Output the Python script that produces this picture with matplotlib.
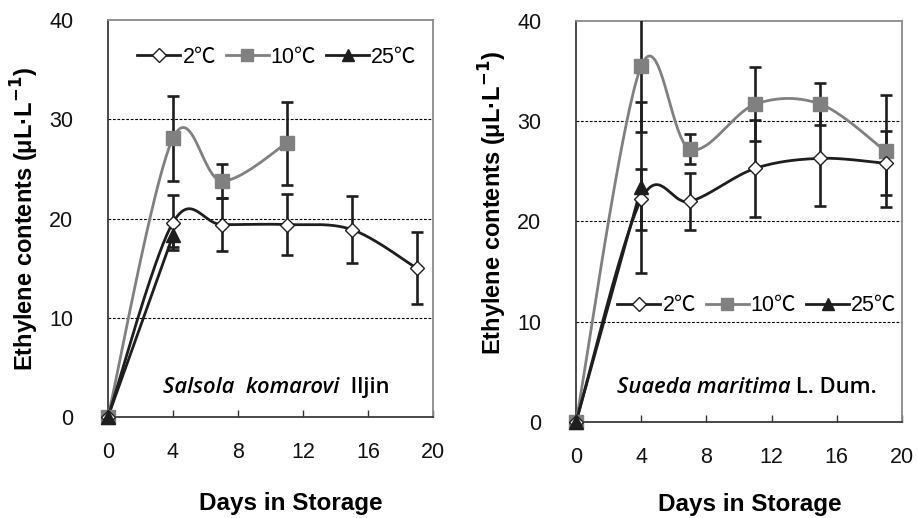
import numpy as np
import matplotlib
matplotlib.use("Agg")
import matplotlib.pyplot as plt
from matplotlib.lines import Line2D

plt.rcParams['font.family'] = ['Liberation Sans', 'Noto Sans CJK SC', 'DejaVu Sans']

# ---------------- data ----------------
days = [0, 4, 7, 11, 15, 19]
days_a10 = [0, 4, 7, 11]
days_25 = [0, 4]

# Salsola komarovi Iljin
a_2 = [0, 19.6, 19.4, 19.4, 18.9, 15.0]
a_2_err = [0, 2.8, 2.7, 3.1, 3.4, 3.6]
a_10 = [0, 28.1, 23.8, 27.6]
a_10_err = [0, 4.3, 1.7, 4.2]
a_25 = [0, 18.3]
a_25_err = [0, 1.2]

# Suaeda maritima L. Dum.
b_2 = [0, 22.2, 22.0, 25.3, 26.3, 25.8]
b_2_err = [0, 3.05, 2.8, 4.85, 4.8, 3.2]
b_10 = [0, 35.5, 27.2, 31.7, 31.7, 27.0]
b_10_err = [0, 6.6, 1.5, 3.7, 2.1, 5.6]
b_25 = [0, 23.4]
b_25_err = [0, 8.5]

series_labels = ['2℃', '10℃', '25℃']
x_ticks = [0, 4, 8, 12, 16, 20]
y_ticks = [0, 10, 20, 30, 40]


def smooth(xs, ys, n=40):
    """Excel-style smoothed line (Catmull-Rom through the data points)."""
    P = np.column_stack([xs, ys]).astype(float)
    m = len(P)
    if m < 3:
        return P[:, 0], P[:, 1]
    out = []
    for i in range(m - 1):
        p0 = P[max(i - 1, 0)]
        p1 = P[i]
        p2 = P[i + 1]
        p3 = P[min(i + 2, m - 1)]
        c1 = p1 + (p2 - p0) / 6.0
        c2 = p2 - (p3 - p1) / 6.0
        t = np.linspace(0, 1, n)[:, None]
        seg = ((1 - t) ** 3) * p1 + 3 * ((1 - t) ** 2) * t * c1 + 3 * (1 - t) * t ** 2 * c2 + t ** 3 * p2
        out.append(seg if i == 0 else seg[1:])
    out = np.vstack(out)
    return out[:, 0], out[:, 1]


C_BLACK = '#1e1e1e'
C_GRAY = '#808080'

fig = plt.figure(figsize=(9.18, 5.18), dpi=100)
ax1 = fig.add_axes([0.1176, 0.195, 0.354, 0.766])
ax2 = fig.add_axes([0.6275, 0.1853, 0.355, 0.7742])


def draw(ax, d2, v2, e2, d10, v10, e10, d25, v25, e25, legend_pos,
         xl_x, xl_pad, yl_y, yl_pad):
    ax.set_xlim(0, 20)
    ax.set_ylim(0, 40)
    for g in [10, 20, 30]:
        ax.axhline(g, color='black', lw=0.8, ls=(0, (2.5, 1.5)), zorder=1)

    ekw = dict(fmt='none', ecolor=C_BLACK, elinewidth=1.9, capsize=4.5,
               capthick=1.9, zorder=3)
    ax.errorbar(d10, v10, yerr=e10, **ekw)
    ax.errorbar(d2, v2, yerr=e2, **ekw)
    ax.errorbar(d25, v25, yerr=e25, **ekw)

    sx, sy = smooth(d10, v10)
    ax.plot(sx, sy, color=C_GRAY, lw=2.0, zorder=4)
    sx, sy = smooth(d2, v2)
    ax.plot(sx, sy, color=C_BLACK, lw=2.0, zorder=4)
    ax.plot(d25, v25, color=C_BLACK, lw=2.0, zorder=4)

    ax.plot(d10, v10, ls='none', marker='s', ms=10, mfc=C_GRAY, mec=C_GRAY,
            zorder=5, clip_on=False)
    ax.plot(d2, v2, ls='none', marker='D', ms=7.5, mfc='white', mec=C_BLACK,
            mew=1.0, zorder=6, clip_on=False)
    ax.plot(d25, v25, ls='none', marker='^', ms=10, mfc=C_BLACK, mec=C_BLACK,
            zorder=6, clip_on=False)

    ax.set_xticks(x_ticks)
    ax.set_yticks(y_ticks)
    ax.tick_params(axis='x', direction='in', length=5, width=1, pad=18,
                   labelsize=15.5, colors='#333333', labelcolor='#111111')
    ax.tick_params(axis='y', length=0, pad=25, labelsize=15.5, labelcolor='#111111')
    for s in ['left', 'bottom']:
        ax.spines[s].set_color('#3a3a3a')
        ax.spines[s].set_linewidth(1.3)
    for s in ['top', 'right']:
        ax.spines[s].set_color('#8a8a8a')
        ax.spines[s].set_linewidth(1.3)

    ax.set_xlabel('Days in Storage', fontsize=17.5, fontweight='bold', labelpad=xl_pad)
    ax.xaxis.label.set_x(xl_x)
    ax.set_ylabel(r'Ethylene contents (μL·L$^{\mathbf{-1}}$)', fontsize=17,
                  fontweight='bold', labelpad=yl_pad)
    ax.yaxis.label.set_y(yl_y)

    handles = [
        Line2D([], [], color=C_BLACK, lw=2, marker='D', ms=7.5, mfc='white', mec=C_BLACK),
        Line2D([], [], color=C_GRAY, lw=2, marker='s', ms=9, mfc=C_GRAY, mec=C_GRAY),
        Line2D([], [], color=C_BLACK, lw=2, marker='^', ms=9, mfc=C_BLACK, mec=C_BLACK),
    ]
    ax.legend(handles, series_labels, loc='center', bbox_to_anchor=legend_pos,
              ncol=3, frameon=False, fontsize=15.5, handlelength=2.0,
              handletextpad=0.1, columnspacing=0.45, borderaxespad=0)


def note(ax, x, y, italic, normal):
    t1 = ax.text(x, y, italic, fontsize=15.8, family='Open Sans', style='italic',
                 fontweight='semibold', va='center', ha='left', zorder=7)
    ax.annotate(normal, xy=(1, 0), xycoords=t1, va='bottom', ha='left',
                fontsize=15.8, family='Open Sans', fontweight='semibold', zorder=7)


draw(ax1, days, a_2, a_2_err, days_a10, a_10, a_10_err, days_25, a_25, a_25_err,
     (0.52, 0.907), 0.562, 21, 0.5, 6)
draw(ax2, days, b_2, b_2_err, days, b_10, b_10_err, days_25, b_25, b_25_err,
     (0.555, 0.29), 0.534, 18, 0.547, 6)
note(ax1, 3.4, 3.0, 'Salsola  komarovi', '  Iljin')
note(ax2, 2.5, 3.4, 'Suaeda maritima', ' L. Dum.')

fig.savefig('out.png', dpi=100)
